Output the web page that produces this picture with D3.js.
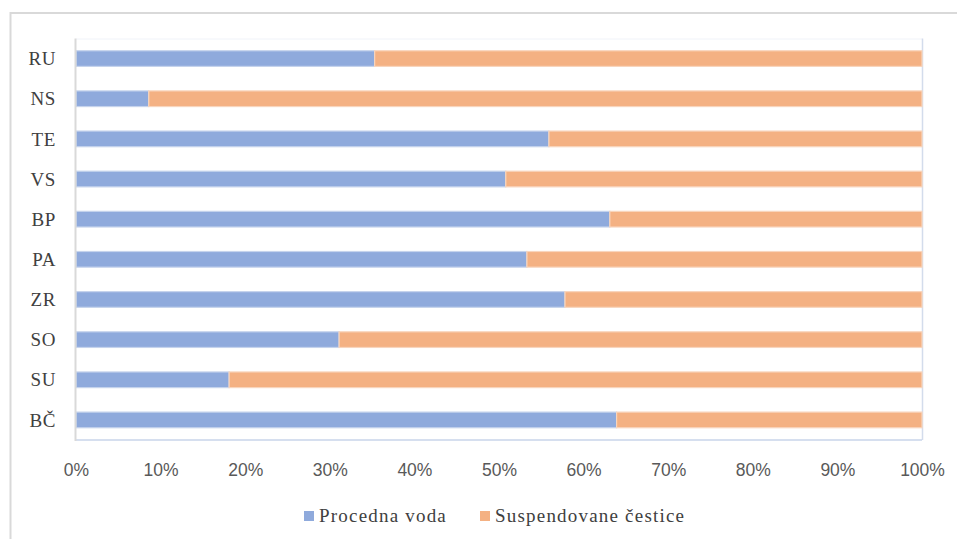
<!DOCTYPE html>
<html>
<head>
<meta charset="utf-8">
<title>Procedna voda / Suspendovane čestice</title>
<script src="https://d3js.org/d3.v7.min.js"></script>
<style>
  body { margin: 0; background: #fff; }
  .cat text { font-family: 'Liberation Serif', 'Times New Roman', serif; font-size: 19px; letter-spacing: 0.6px; fill: #404040; }
  .xax text { font-family: 'Liberation Sans', Arial, sans-serif; font-size: 17.5px; fill: #595959; }
  .legend text { font-family: 'Liberation Serif', 'Times New Roman', serif; font-size: 19px; letter-spacing: 1.2px; fill: #404040; }
</style>
</head>
<body>
<div id="chart"></div>
<script>
  // data (top to bottom as drawn)
  var sites = ["RU", "NS", "TE", "VS", "BP", "PA", "ZR", "SO", "SU", "BČ"];
  var procednaVoda = [35.3, 8.6, 55.9, 50.8, 63.1, 53.3, 57.8, 31.1, 18.1, 63.9];
  var suspendovane = procednaVoda.map(function(v) { return 100 - v; });
  var seriesNames = ["Procedna voda", "Suspendovane čestice"];
  var seriesColors = ["#8faadc", "#f4b183"];
  var xTicks = [0, 10, 20, 30, 40, 50, 60, 70, 80, 90, 100];

  var W = 957, H = 539;
  var margin = {top: 38.5, left: 76, right: 35, bottom: 99};
  var width = W - margin.left - margin.right,
      height = H - margin.top - margin.bottom;

  var svg = d3.select("#chart").append("svg")
    .attr("width", W).attr("height", H);

  // outer frame (only top and left visible in reference)
  svg.append("path")
    .attr("d", "M10.5," + H + "V13H" + W)
    .attr("fill", "none").attr("stroke", "#d9d9d9").attr("stroke-width", 2);

  var g = svg.append("g")
    .attr("transform", "translate(" + margin.left + "," + margin.top + ")");

  var x = d3.scaleLinear().domain([0, 100]).range([0, width]);
  var y = d3.scaleBand().domain(sites).range([0, height]).paddingInner(0.61).paddingOuter(0.305);

  // plot area border
  g.append("line").attr("x1", 0).attr("x2", width).attr("y1", 0.5).attr("y2", 0.5)
    .attr("stroke", "#f0f3f9");
  g.append("line").attr("x1", width + 0.5).attr("x2", width + 0.5).attr("y1", 0).attr("y2", height)
    .attr("stroke", "#d3dcec").attr("stroke-width", 1.5);
  g.append("line").attr("x1", 0).attr("x2", width).attr("y1", height).attr("y2", height)
    .attr("stroke", "#c9d5ea").attr("stroke-width", 1.5);

  var stacked = sites.map(function(s, i) {
    return [[0, procednaVoda[i]], [procednaVoda[i], procednaVoda[i] + suspendovane[i]]];
  });

  // bars
  [0, 1].forEach(function(k) {
    g.selectAll(".bar" + k)
      .data(sites)
      .enter().append("rect")
        .attr("class", "bar" + k)
        .attr("x", function(d, i) { return x(stacked[i][k][0]); })
        .attr("width", function(d, i) { return x(stacked[i][k][1]) - x(stacked[i][k][0]); })
        .attr("y", function(d) { return y(d); })
        .attr("height", y.bandwidth())
        .attr("fill", seriesColors[k])
        .attr("stroke", k == 0 ? "#c5d3ec" : "#f8d5bd")
        .attr("stroke-width", 1.2);
  });

  // left axis line
  g.append("line").attr("x1", -0.5).attr("x2", -0.5).attr("y1", 0).attr("y2", height + 1)
    .attr("stroke", "#d9d9d9").attr("stroke-width", 2);

  // category labels
  g.append("g").attr("class", "cat")
    .selectAll("text").data(sites).enter().append("text")
      .attr("x", -20)
      .attr("y", function(d) { return y(d) + y.bandwidth() / 2; })
      .attr("dy", "0.35em")
      .attr("text-anchor", "end")
      .text(function(d) { return d; });

  // x axis labels
  var xAxis = g.append("g").attr("class", "xax")
    .attr("transform", "translate(0," + (height + 21) + ")")
    .call(d3.axisBottom(x).tickValues(xTicks).tickSize(0).tickFormat(function(d) { return d + "%"; }));
  xAxis.select(".domain").remove();
  xAxis.selectAll("text").attr("font-family", null).attr("font-size", null).attr("fill", null);

  // legend
  var legend = svg.append("g").attr("class", "legend");
  var legX = [304, 480];
  seriesNames.forEach(function(name, i) {
    legend.append("rect").attr("x", legX[i]).attr("y", 511).attr("width", 10).attr("height", 10)
      .attr("fill", seriesColors[i]);
    legend.append("text").attr("x", legX[i] + 15).attr("y", 522).text(name);
  });
</script>
</body>
</html>
